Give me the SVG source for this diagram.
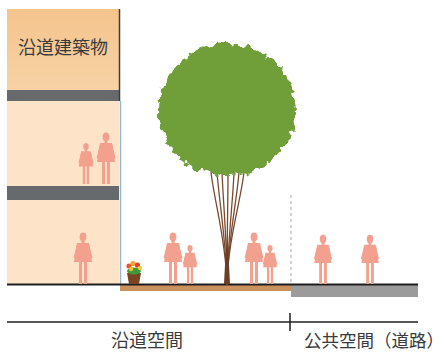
<svg xmlns="http://www.w3.org/2000/svg" width="446" height="353" viewBox="0 0 446 353">
  <defs>
    <style>
      .person { fill: #f4a08e; }
      .band { fill: #676a6c; }
      .label { font-family: "Noto Sans CJK JP", "Noto Sans CJK SC", sans-serif; fill: #3a3a3a; }
      .twig { fill: none; stroke: #7a4a2e; stroke-width: 1.3; stroke-linecap: round; }
    </style>
    <linearGradient id="roofGrad" x1="0" y1="0" x2="0" y2="1">
      <stop offset="0" stop-color="#f4c48c"/>
      <stop offset="1" stop-color="#f7d2a6"/>
    </linearGradient>
    <filter id="leafEdge" x="-20%" y="-20%" width="140%" height="140%">
      <feTurbulence type="fractalNoise" baseFrequency="0.13" numOctaves="2" seed="7" result="noise"/>
      <feDisplacementMap in="SourceGraphic" in2="noise" scale="12" xChannelSelector="R" yChannelSelector="G"/>
    </filter>
    <!-- standing adult, origin at the feet -->
    <g id="adult">
      <ellipse cx="0" cy="-47" rx="3.4" ry="4.4"/>
      <rect x="-1.5" y="-44" width="3" height="4"/>
      <path d="M-6,-41 L6,-41 L9,-22 L-9,-22 Z"/>
      <path d="M-6,-40 L-9.5,-26 L-8,-25.5 L-5,-36 Z"/>
      <path d="M6,-40 L9.5,-26 L8,-25.5 L5,-36 Z"/>
      <rect x="-4" y="-23" width="3" height="23"/>
      <rect x="1" y="-23" width="3" height="23"/>
    </g>
  </defs>

  <rect width="446" height="353" fill="#ffffff"/>

  <!-- roadside building -->
  <g id="building">
    <rect x="7" y="9" width="112" height="81" fill="url(#roofGrad)"/>
    <rect class="band" x="7" y="90" width="112" height="11"/>
    <rect x="7" y="101" width="112" height="85" fill="#fde4c8"/>
    <rect class="band" x="7" y="186" width="112" height="14"/>
    <rect x="7" y="200" width="112" height="84" fill="#fde4c8"/>
    <line x1="119.5" y1="9" x2="119.5" y2="101" stroke="#3c3c3c" stroke-width="1.5"/>
    <line x1="120.5" y1="101" x2="120.5" y2="284" stroke="#8fb8d8" stroke-width="1.5"/>
    <text class="label" x="63" y="54" font-size="18" text-anchor="middle">沿道建築物</text>
  </g>

  <!-- ground -->
  <g id="ground">
    <rect x="120" y="285" width="171" height="6" fill="#c8915e"/>
    <rect x="291" y="285" width="127" height="12" fill="#9b9b9b"/>
    <line x1="7" y1="284.5" x2="418" y2="284.5" stroke="#1e1e1e" stroke-width="2"/>
    <line x1="291" y1="195" x2="291" y2="283" stroke="#b6b8c4" stroke-width="1.2" stroke-dasharray="3 3"/>
  </g>

  <!-- street tree -->
  <g id="tree">
    <path class="twig" d="M227,284 C226,240 214,200 211,172"/>
    <path class="twig" d="M227,284 C226,240 219,200 217,172"/>
    <path class="twig" d="M227,284 C227,240 223,200 222,172"/>
    <path class="twig" d="M227,284 C227,240 228,200 228,172"/>
    <path class="twig" d="M227,284 C228,240 233,200 234,172"/>
    <path class="twig" d="M227,284 C228,240 237,200 239,172"/>
    <path class="twig" d="M227,284 C228,240 241,200 244,172"/>
    <path d="M224,284 C225,262 226,250 227,236 C228,250 229,262 230,284 Z" fill="#6b3e24"/>
    <ellipse cx="227" cy="110" rx="69" ry="66" fill="#6f9e38" filter="url(#leafEdge)"/>
  </g>

  <!-- planter -->
  <g id="planter">
    <path d="M127,273 L141,273 L139,284 L129,284 Z" fill="#7a4522"/>
    <ellipse cx="134" cy="271" rx="7" ry="3.5" fill="#3f9a3a"/>
    <circle cx="129" cy="266" r="2.6" fill="#e8562c"/>
    <circle cx="133" cy="263.5" r="2.6" fill="#f2a43a"/>
    <circle cx="137.5" cy="265" r="2.6" fill="#e33d2a"/>
    <circle cx="140" cy="268" r="2.2" fill="#f5c93c"/>
    <circle cx="131" cy="269" r="2.2" fill="#f0c030"/>
  </g>

  <!-- people -->
  <g id="people" class="person">
    <use href="#adult" transform="translate(86,184) scale(0.8)"/>
    <use href="#adult" transform="translate(106,184)"/>
    <use href="#adult" transform="translate(83,284)"/>
    <use href="#adult" transform="translate(173,284)"/>
    <use href="#adult" transform="translate(190,284) scale(0.76)"/>
    <use href="#adult" transform="translate(254,284)"/>
    <use href="#adult" transform="translate(270,284) scale(0.76)"/>
    <use href="#adult" transform="translate(323,284) scale(0.96)"/>
    <use href="#adult" transform="translate(370,284) scale(0.96)"/>
  </g>

  <!-- extent axis -->
  <g id="axis">
    <line x1="7" y1="322" x2="418" y2="322" stroke="#1e1e1e" stroke-width="1.5"/>
    <line x1="290" y1="313" x2="290" y2="331" stroke="#1e1e1e" stroke-width="1.5"/>
    <text class="label" x="147" y="347" font-size="18" text-anchor="middle">沿道空間</text>
    <text class="label" x="304" y="347" font-size="17.5">公共空間（道路）</text>
  </g>
</svg>
